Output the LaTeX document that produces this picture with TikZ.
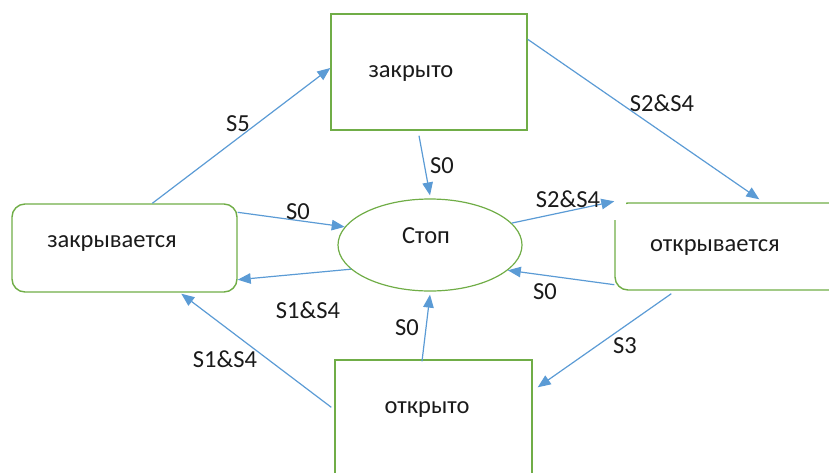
\documentclass[tikz,border=0pt]{standalone}
\usepackage{fontspec}
\setmainfont{Carlito}
\usetikzlibrary{arrows.meta,shapes.geometric,calc}
\definecolor{boxgreen}{HTML}{70AD47}
\definecolor{arrblue}{HTML}{5B9BD5}
\definecolor{txtgray}{HTML}{1A1A1A}
\tikzset{
  statebox/.style={draw=boxgreen, line width=1.4pt, rectangle, inner sep=0pt},
  roundbox/.style={statebox, rounded corners=13pt},
  stopell/.style={draw=boxgreen, line width=1.2pt, ellipse, inner sep=0pt},
  txt/.style={anchor=base, inner sep=0pt, text=txtgray, font=\fontsize{24.5}{29}\selectfont},
  arr/.style={draw=arrblue, line width=1.2pt, -{Triangle[length=13pt,width=10.5pt]}}
}
\begin{document}
\begin{tikzpicture}[x=1pt,y=1pt]
\useasboundingbox (0,0) rectangle (829,-472);
\clip (0,0) rectangle (829,-472);
% state shapes
\node[statebox, minimum width=196pt, minimum height=116pt] (zak) at (429,-72) {};
\node[roundbox, minimum width=225pt, minimum height=88pt] (zkv) at (124.5,-248) {};
\node[stopell, minimum width=184pt, minimum height=92pt] (stop) at (430,-245) {};
\node[roundbox, minimum width=245pt, minimum height=87pt] (otv) at (737.5,-246.5) {};
\node[statebox, minimum width=197pt, minimum height=140pt] (otk) at (433.5,-430) {};
% the corner of otv is hidden behind the label area in the reference
\fill[white] ([xshift=-3pt,yshift=3pt]otv.north west) rectangle ([xshift=12pt,yshift=-18pt]otv.north west);
% state texts
\node[txt] (tzak) at (411,-77) {закрыто};
\node[txt] (tzkv) at (112,-247) {закрывается};
\node[txt] (tstop) at (426,-243) {Стоп};
\node[txt] (totv) at (715,-251) {открывается};
\node[txt] (totk) at (427,-413) {открыто};
% connectors
\draw[arr] ([xshift=141pt]zkv.north west) -- ([yshift=4pt]zak.west);
\draw[arr] ([yshift=-26pt]zak.north east) -- ([xshift=145pt,yshift=3pt]otv.north west);
\draw[arr] ([xshift=-10pt,yshift=-5pt]zak.south) -- ([yshift=3pt]stop.north);
\draw[arr] ([yshift=-9pt]zkv.north east) -- (stop.168);
\draw[arr] (stop.197) -- ([yshift=13pt]zkv.south east);
\draw[arr] (stop.15) -- ([yshift=1pt]otv.north west);
\draw[arr] ([yshift=6pt]otv.south west) -- (stop.-18);
\draw[arr] ([xshift=-11.5pt,yshift=-2pt]otk.north) -- ([yshift=-3pt]stop.south);
\draw[arr] ([xshift=57pt,yshift=-3pt]otv.south west) -- ([xshift=5pt,yshift=-28pt]otk.north east);
\draw[arr] ([xshift=-3pt,yshift=-48pt]otk.north west) -- ([xshift=170pt,yshift=-1pt]zkv.south west);
% connector labels
\node[txt] (l1) at (238,-131) {S5};
\node[txt] (l2) at (662,-111) {S2\&S4};
\node[txt] (l3) at (442,-173) {S0};
\node[txt] (l4) at (298,-219) {S0};
\node[txt] (l5) at (308,-318) {S1\&S4};
\node[txt] (l6) at (568,-207) {S2\&S4};
\node[txt] (l7) at (545,-299) {S0};
\node[txt] (l8) at (407,-335) {S0};
\node[txt] (l9) at (625,-353) {S3};
\node[txt] (l10) at (225,-367) {S1\&S4};
\end{tikzpicture}
\end{document}
